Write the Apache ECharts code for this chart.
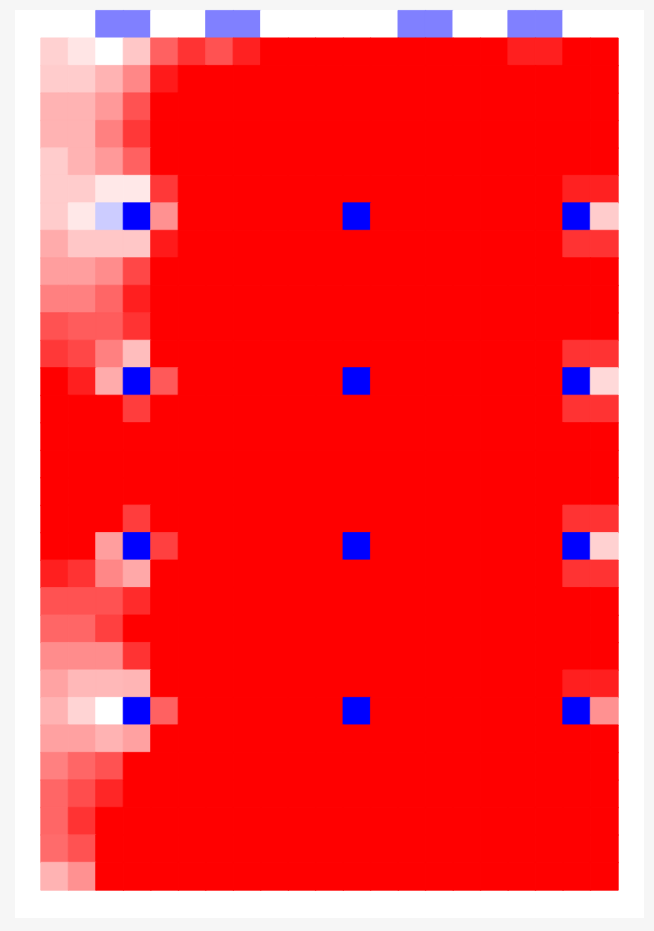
<!DOCTYPE html>
<html>
<head>
<meta charset="utf-8">
<script src="https://cdn.jsdelivr.net/npm/echarts@6/dist/echarts.min.js"></script>
<style>
html,body{margin:0;padding:0;background:#f6f6f6;}
#chart{width:654px;height:931px;}
</style>
</head>
<body>
<div id="chart"></div>
<script>
// Column and row categories
const colLabels = Array.from({length: 21}, (_, i) => String(i));
const rowLabels = Array.from({length: 32}, (_, i) => String(i));

// Header row (row 0)
const headerRow = [0,0,-0.5,-0.5,0,0,-0.5,-0.5,0,0,0,0,0,-0.5,-0.5,0,0,-0.5,-0.5,0,0];

// Body rows 1..31 (21 columns each)
const bodyRows = [
  [0.18,0.1,0,0.22,0.62,0.8,0.68,0.87,1,1,1,1,1,1,1,1,1,0.88,0.88,1,1],
  [0.2,0.2,0.3,0.47,0.9,1,1,1,1,1,1,1,1,1,1,1,1,1,1,1,1],
  [0.3,0.3,0.4,0.68,1,1,1,1,1,1,1,1,1,1,1,1,1,1,1,1,1],
  [0.3,0.3,0.5,0.78,1,1,1,1,1,1,1,1,1,1,1,1,1,1,1,1,1],
  [0.2,0.3,0.4,0.62,1,1,1,1,1,1,1,1,1,1,1,1,1,1,1,1,1],
  [0.2,0.2,0.09,0.09,0.78,1,1,1,1,1,1,1,1,1,1,1,1,1,1,0.87,0.87],
  [0.2,0.09,-0.2,-1,0.43,1,1,1,1,1,1,-1,1,1,1,1,1,1,1,-1,0.2],
  [0.33,0.22,0.22,0.22,0.9,1,1,1,1,1,1,1,1,1,1,1,1,1,1,0.8,0.8],
  [0.38,0.38,0.45,0.72,1,1,1,1,1,1,1,1,1,1,1,1,1,1,1,1,1],
  [0.5,0.5,0.6,0.88,1,1,1,1,1,1,1,1,1,1,1,1,1,1,1,1,1],
  [0.68,0.64,0.64,0.8,1,1,1,1,1,1,1,1,1,1,1,1,1,1,1,1,1],
  [0.78,0.72,0.5,0.26,1,1,1,1,1,1,1,1,1,1,1,1,1,1,1,0.8,0.8],
  [1,0.88,0.33,-1,0.65,1,1,1,1,1,1,-1,1,1,1,1,1,1,1,-1,0.15],
  [1,1,1,0.76,1,1,1,1,1,1,1,1,1,1,1,1,1,1,1,0.8,0.8],
  [1,1,1,1,1,1,1,1,1,1,1,1,1,1,1,1,1,1,1,1,1],
  [1,1,1,1,1,1,1,1,1,1,1,1,1,1,1,1,1,1,1,1,1],
  [1,1,1,1,1,1,1,1,1,1,1,1,1,1,1,1,1,1,1,1,1],
  [1,1,1,0.76,1,1,1,1,1,1,1,1,1,1,1,1,1,1,1,0.8,0.8],
  [1,1,0.38,-1,0.75,1,1,1,1,1,1,-1,1,1,1,1,1,1,1,-1,0.18],
  [0.88,0.8,0.47,0.34,1,1,1,1,1,1,1,1,1,1,1,1,1,1,1,0.8,0.8],
  [0.68,0.68,0.68,0.83,1,1,1,1,1,1,1,1,1,1,1,1,1,1,1,1,1],
  [0.6,0.6,0.75,1,1,1,1,1,1,1,1,1,1,1,1,1,1,1,1,1,1],
  [0.45,0.45,0.45,0.8,1,1,1,1,1,1,1,1,1,1,1,1,1,1,1,1,1],
  [0.36,0.28,0.28,0.29,1,1,1,1,1,1,1,1,1,1,1,1,1,1,1,0.88,0.88],
  [0.3,0.17,0,-1,0.62,1,1,1,1,1,1,-1,1,1,1,1,1,1,1,-1,0.43],
  [0.37,0.37,0.3,0.37,1,1,1,1,1,1,1,1,1,1,1,1,1,1,1,1,1],
  [0.5,0.6,0.68,1,1,1,1,1,1,1,1,1,1,1,1,1,1,1,1,1,1],
  [0.6,0.7,0.85,1,1,1,1,1,1,1,1,1,1,1,1,1,1,1,1,1,1],
  [0.6,0.8,1,1,1,1,1,1,1,1,1,1,1,1,1,1,1,1,1,1,1],
  [0.58,0.68,1,1,1,1,1,1,1,1,1,1,1,1,1,1,1,1,1,1,1],
  [0.3,0.43,1,1,1,1,1,1,1,1,1,1,1,1,1,1,1,1,1,1,1]
];

const paletteStops = ['#0000ff', '#ffffff', '#ff0000'];
const minValue = -1, maxValue = 1;

const allRows = [headerRow].concat(bodyRows);
const data = [];
allRows.forEach((row, r) => {
  row.forEach((v, c) => {
    const t = (v - minValue) / (maxValue - minValue);
    data.push({
      value: [c, r, v],
      // border in the cell's own colour hides antialiasing seams between cells
      itemStyle: {borderColor: echarts.color.lerp(t, paletteStops), borderWidth: 0.8}
    });
  });
});

const chart = echarts.init(document.getElementById('chart'), null, {renderer: 'canvas'});
chart.setOption({
  backgroundColor: 'transparent',
  animation: false,
  graphic: [{
    type: 'rect',
    z: -10,
    shape: {x: 15, y: 10, width: 629, height: 908},
    style: {fill: '#ffffff'}
  }],
  grid: {left: 41, top: 10.7, width: 577, height: 879.3, containLabel: false},
  xAxis: {
    type: 'category', data: colLabels, show: false,
    axisLine: {show: false}, axisTick: {show: false}, splitLine: {show: false}
  },
  yAxis: {
    type: 'category', data: rowLabels, inverse: true, show: false,
    axisLine: {show: false}, axisTick: {show: false}, splitLine: {show: false}
  },
  visualMap: {
    show: false, type: 'continuous', min: minValue, max: maxValue, dimension: 2,
    inRange: {color: paletteStops}
  },
  series: [{
    type: 'heatmap',
    data: data,
    emphasis: {disabled: true}
  }]
});
</script>
</body>
</html>
